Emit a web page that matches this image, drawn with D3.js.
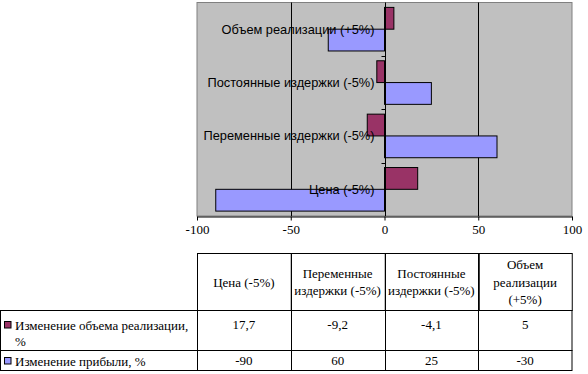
<!DOCTYPE html>
<html>
<head>
<meta charset="utf-8">
<script src="https://cdn.jsdelivr.net/npm/d3@7"></script>
<style>
  body { margin: 0; background: #fff; }
  svg { display: block; }
  .serif { font-family: "Liberation Serif", "Times New Roman", serif; }
  .sans { font-family: "Liberation Sans", Arial, sans-serif; }
</style>
</head>
<body>
<svg width="588" height="374"></svg>
<script>
// categories, bottom to top on the chart, left to right in the table
var categories = ["Цена (-5%)", "Переменные издержки (-5%)", "Постоянные издержки (-5%)", "Объем реализации (+5%)"];
// header text wrapped like the table does it
var headerLines = [["Цена (-5%)"], ["Переменные", "издержки (-5%)"], ["Постоянные", "издержки (-5%)"], ["Объем", "реализации", "(+5%)"]];

var seriesNames = ["Изменение объема реализации, %", "Изменение прибыли, %"];
var volumeChange = [17.7, -9.2, -4.1, 5];
var profitChange = [-90, 60, 25, -30];
var valueLabels = [["17,7", "-9,2", "-4,1", "5"], ["-90", "60", "25", "-30"]];
var xTicks = [-100, -50, 0, 50, 100];

var colors = ["#993366", "#9999ff"];
var series = [volumeChange, profitChange];

var svg = d3.select("svg");

var plotLeft = 197, plotRight = 572, plotTop = 2.5, plotBottom = 216;

var x = d3.scaleLinear().domain([-100, 100]).range([plotLeft, plotRight]);
// first category sits at the bottom
var y = d3.scaleBand().domain(categories).range([plotBottom, plotTop]);
var inner = d3.scaleBand().domain([0, 1]).range([0, y.bandwidth()]).paddingOuter(0.225).paddingInner(0);

// plot area
svg.append("rect")
  .attr("x", plotLeft).attr("y", plotTop)
  .attr("width", plotRight - plotLeft).attr("height", plotBottom - plotTop)
  .attr("fill", "#c0c0c0")
  .attr("stroke", "#808080").attr("stroke-width", 1);

// gridlines
svg.append("g").selectAll("line")
  .data([-50, 50])
  .enter().append("line")
  .attr("x1", function(d) { return Math.round(x(d)) + 0.5; })
  .attr("x2", function(d) { return Math.round(x(d)) + 0.5; })
  .attr("y1", plotTop).attr("y2", plotBottom)
  .attr("stroke", "#000");

// bars: series 0 above series 1 within each band
series.forEach(function(vals, s) {
  svg.append("g").selectAll("rect")
    .data(vals)
    .enter().append("rect")
    .attr("x", function(d) { return Math.min(x(0), x(d)); })
    .attr("width", function(d) { return Math.abs(x(d) - x(0)); })
    .attr("y", function(d, i) { return y(categories[i]) + inner(s); })
    .attr("height", inner.bandwidth())
    .attr("fill", colors[s])
    .attr("stroke", "#000").attr("stroke-width", 1);
});

// zero axis with left ticks at band edges
var x0 = Math.round(x(0)) + 0.5;
svg.append("line")
  .attr("x1", x0).attr("x2", x0)
  .attr("y1", plotTop).attr("y2", plotBottom)
  .attr("stroke", "#000");
svg.append("g").selectAll("line")
  .data(categories.slice(1))
  .enter().append("line")
  .attr("x1", x0 - 4).attr("x2", x0)
  .attr("y1", function(d) { return Math.round(y(d) + y.bandwidth()) + 0.5; })
  .attr("y2", function(d) { return Math.round(y(d) + y.bandwidth()) + 0.5; })
  .attr("stroke", "#000");

// category labels next to the zero axis
svg.append("g").selectAll("text")
  .data(categories)
  .enter().append("text")
  .attr("class", "sans")
  .attr("x", x(0) - 10)
  .attr("y", function(d) { return y(d) + y.bandwidth() / 2; })
  .attr("dy", "0.35em")
  .attr("text-anchor", "end")
  .attr("font-size", 12.8)
  .attr("fill", "#000")
  .text(function(d) { return d; });

// bottom value axis
var xAxis = svg.append("g")
  .attr("transform", "translate(0," + (plotBottom + 0.5) + ")")
  .call(d3.axisBottom(x).tickValues(xTicks).tickSize(4).tickSizeOuter(0).tickFormat(String));
xAxis.attr("font-family", null);
xAxis.select(".domain").attr("stroke", "#000");
xAxis.selectAll(".tick line").attr("stroke", "#000");
xAxis.selectAll("text")
  .attr("class", "serif").attr("font-size", 13).attr("fill", "#000")
  .attr("y", 13).attr("dy", "0.35em");

// data table
var col = d3.scaleBand().domain(categories).range([plotLeft, plotRight]);
var tTop = 253.5, hBottom = 310.5, r1Bottom = 350.5, tBottom = 370.5;
var tbl = svg.append("g").attr("stroke", "#000").attr("stroke-width", 1);

// header cells
categories.forEach(function(c) {
  tbl.append("rect")
    .attr("x", Math.round(col(c)) + 0.5).attr("y", tTop)
    .attr("width", col.bandwidth()).attr("height", hBottom - tTop)
    .attr("fill", "none");
});
// data rows
[[hBottom, r1Bottom], [r1Bottom, tBottom]].forEach(function(r) {
  tbl.append("rect")
    .attr("x", 0.5).attr("y", r[0])
    .attr("width", plotRight - 0.5).attr("height", r[1] - r[0])
    .attr("fill", "none");
  categories.forEach(function(c) {
    tbl.append("line")
      .attr("x1", Math.round(col(c)) + 0.5).attr("x2", Math.round(col(c)) + 0.5)
      .attr("y1", r[0]).attr("y2", r[1]);
  });
});

// header text
var hMid = (tTop + hBottom) / 2;
categories.forEach(function(c, i) {
  var lines = headerLines[i];
  var lh = 17.5;
  var t = svg.append("text")
    .attr("class", "serif")
    .attr("text-anchor", "middle")
    .attr("font-size", 13);
  lines.forEach(function(l, k) {
    t.append("tspan")
      .attr("x", col(c) + col.bandwidth() / 2)
      .attr("y", hMid + (k - (lines.length - 1) / 2) * lh)
      .attr("dy", "0.35em")
      .text(l);
  });
});

// row labels with legend keys
var rowTextY = [[325, 341], [361]];
var rowLabelLines = [["Изменение объема реализации,", "%"], [seriesNames[1]]];
seriesNames.forEach(function(name, s) {
  svg.append("rect")
    .attr("x", 4.5).attr("y", rowTextY[s][0] - 3.5)
    .attr("width", 6.5).attr("height", 6.5)
    .attr("fill", colors[s]).attr("stroke", "#000");
  rowLabelLines[s].forEach(function(l, k) {
    svg.append("text")
      .attr("class", "serif")
      .attr("x", 15).attr("y", rowTextY[s][k]).attr("dy", "0.35em")
      .attr("font-size", 13)
      .text(l);
  });
  valueLabels[s].forEach(function(v, i) {
    svg.append("text")
      .attr("class", "serif")
      .attr("x", col(categories[i]) + col.bandwidth() / 2)
      .attr("y", rowTextY[s][0] - 1).attr("dy", "0.35em")
      .attr("text-anchor", "middle")
      .attr("font-size", 13)
      .text(v);
  });
});
</script>
</body>
</html>
